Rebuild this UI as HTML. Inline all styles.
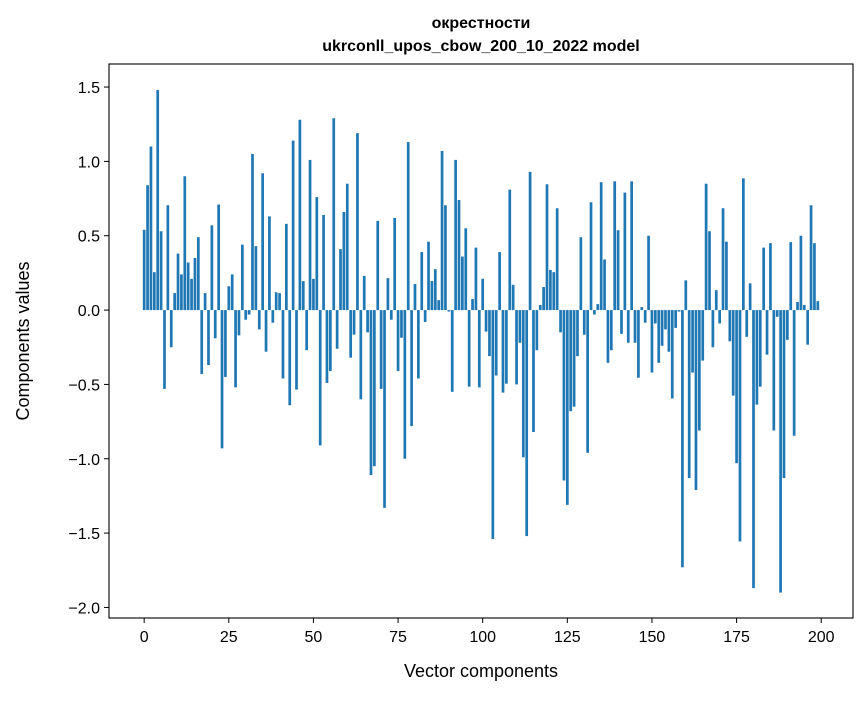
<!DOCTYPE html>
<html><head><meta charset="utf-8"><style>
body{margin:0;background:#fff;}
svg text{font-family:"Liberation Sans","DejaVu Sans",sans-serif;fill:#000;}
</style></head><body>
<svg id="chart" width="867" height="696" xmlns="http://www.w3.org/2000/svg">
<rect width="867" height="696" fill="#fff"/>
<text x="481" y="28" text-anchor="middle" font-size="16" font-weight="bold">окрестности</text>
<text x="481" y="51" text-anchor="middle" font-size="16" font-weight="bold">ukrconll_upos_cbow_200_10_2022 model</text>
<g id="bars"></g>
<g id="axes"></g>
<rect x="109" y="64" width="744" height="554" fill="none" stroke="#000" stroke-width="1.1"/>
<text x="481" y="677" text-anchor="middle" font-size="18">Vector components</text>
<text transform="translate(29,341) rotate(-90)" text-anchor="middle" font-size="18">Components values</text>
</svg>
<script>
const values = [0.54,0.84,1.10,0.255,1.48,0.53,-0.53,0.705,-0.25,0.114,
0.38,0.24,0.90,0.32,0.21,0.35,0.49,-0.43,0.114,-0.37,
0.57,-0.19,0.71,-0.93,-0.45,0.16,0.24,-0.52,-0.17,0.44,
-0.065,-0.03,1.05,0.43,-0.13,0.92,-0.28,0.63,-0.085,0.12,
0.114,-0.46,0.58,-0.64,1.14,-0.535,1.28,0.195,-0.27,1.01,
0.21,0.76,-0.91,0.64,-0.49,-0.41,1.29,-0.26,0.41,0.66,
0.85,-0.32,-0.165,1.19,-0.60,0.23,-0.15,-1.11,-1.05,0.60,
-0.53,-1.33,0.215,-0.065,0.62,-0.41,-0.186,-1.0,1.13,-0.78,
0.175,-0.46,0.39,-0.08,0.46,0.195,0.275,0.067,1.07,0.705,
-0.01,-0.55,1.01,0.74,0.36,0.55,-0.515,0.074,0.42,-0.52,
0.21,-0.145,-0.31,-1.54,-0.44,0.39,-0.555,-0.495,0.81,0.17,
-0.50,-0.22,-0.99,-1.52,0.93,-0.82,-0.27,0.034,0.155,0.846,
0.27,0.255,0.685,-0.15,-1.146,-1.31,-0.68,-0.65,-0.31,0.49,
-0.166,-0.96,0.725,-0.03,0.04,0.86,0.34,-0.355,-0.27,0.866,
0.537,-0.16,0.79,-0.22,0.866,-0.22,-0.455,0.02,-0.085,0.50,
-0.42,-0.09,-0.355,-0.24,-0.13,-0.28,-0.595,-0.12,-0.01,-1.73,
0.20,-1.13,-0.42,-1.21,-0.81,-0.34,0.85,0.53,-0.25,0.134,
-0.09,0.685,0.46,-0.21,-0.575,-1.03,-1.556,0.886,-0.18,0.18,
-1.87,-0.636,-0.515,0.42,-0.30,0.45,-0.81,-0.045,-1.90,-1.13,
-0.20,0.457,-0.845,0.054,0.50,0.034,-0.233,0.705,0.45,0.06];
const xTicks = [0,25,50,75,100,125,150,175,200];
const yTicks = [1.5,1.0,0.5,0.0,-0.5,-1.0,-1.5,-2.0];
const yTickLabels = ["1.5","1.0","0.5","0.0","\u22120.5","\u22121.0","\u22121.5","\u22122.0"];

const NS="http://www.w3.org/2000/svg";
const L=109,R=853,T=64,B=618;
const xmin=-10.39,xmax=209.39;
const ymax=1.655,ymin=-2.071;
function xs(v){return L+(v-xmin)/(xmax-xmin)*(R-L);}
function ys(v){return T+(ymax-v)/(ymax-ymin)*(B-T);}
const bars=document.getElementById('bars');
values.forEach((v,i)=>{
  const r=document.createElementNS(NS,'rect');
  const x0=xs(i-0.4),x1=xs(i+0.4);
  const y0=ys(Math.max(v,0)),y1=ys(Math.min(v,0));
  r.setAttribute('x',x0);r.setAttribute('width',x1-x0);
  r.setAttribute('y',y0);r.setAttribute('height',Math.max(y1-y0,0.3));
  r.setAttribute('fill','#1f77b4');
  
  
  bars.appendChild(r);
});
const ax=document.getElementById('axes');
xTicks.forEach(t=>{
  const x=xs(t);
  const l=document.createElementNS(NS,'line');
  l.setAttribute('x1',x);l.setAttribute('x2',x);l.setAttribute('y1',B);l.setAttribute('y2',B+5);
  l.setAttribute('stroke','#000');
  
  
  ax.appendChild(l);
  const tx=document.createElementNS(NS,'text');
  tx.setAttribute('x',x);tx.setAttribute('y',B+24);tx.setAttribute('text-anchor','middle');tx.setAttribute('font-size','16');
  tx.textContent=String(t);
  
  
  ax.appendChild(tx);
});
yTicks.forEach((t,i)=>{
  const y=ys(t);
  const l=document.createElementNS(NS,'line');
  l.setAttribute('x1',L-5);l.setAttribute('x2',L);l.setAttribute('y1',y);l.setAttribute('y2',y);
  l.setAttribute('stroke','#000');
  
  
  ax.appendChild(l);
  const tx=document.createElementNS(NS,'text');
  tx.setAttribute('x',L-9);tx.setAttribute('y',y+6);tx.setAttribute('text-anchor','end');tx.setAttribute('font-size','16');
  tx.textContent=yTickLabels[i];
  
  
  ax.appendChild(tx);
});
</script>
</body></html>
